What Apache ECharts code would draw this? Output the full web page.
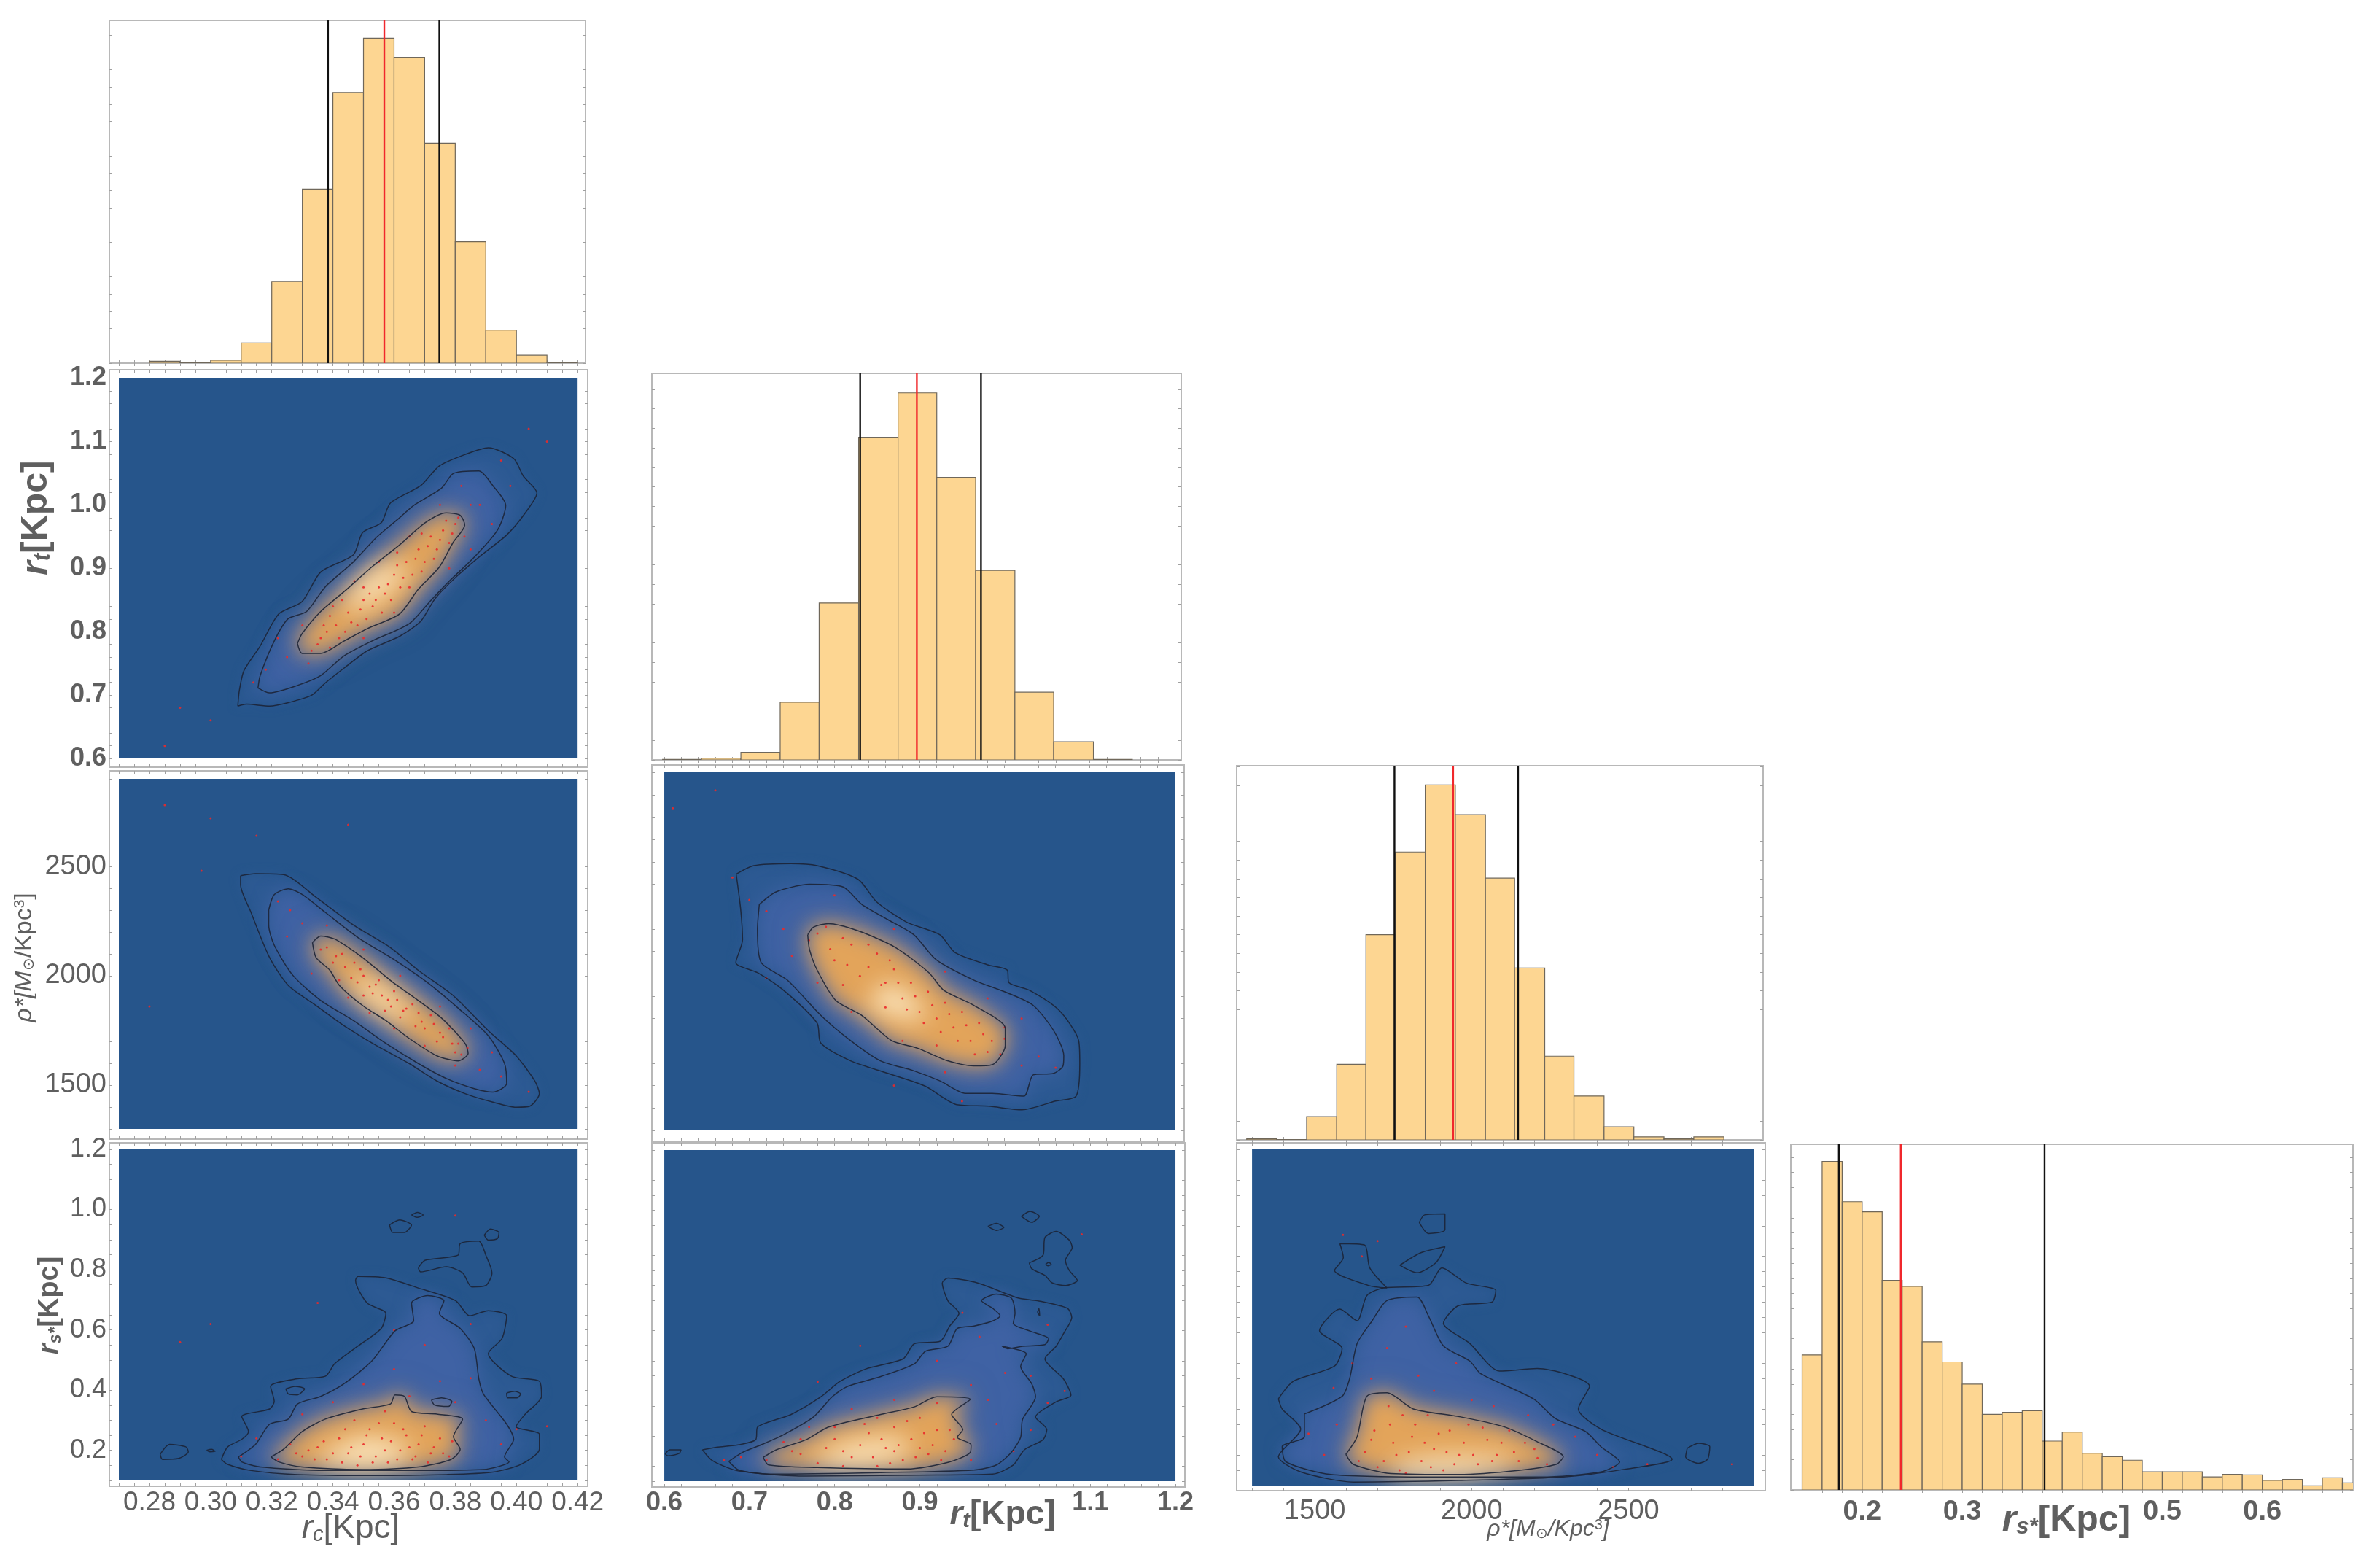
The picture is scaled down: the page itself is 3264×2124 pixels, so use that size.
<!DOCTYPE html>
<html><head><meta charset="utf-8">
<style>html,body{margin:0;padding:0;background:#fff}#c{width:3264px;height:2124px}</style>
<script src="https://cdn.jsdelivr.net/npm/echarts@6/dist/echarts.min.js"></script>
</head><body><div id="c"></div>
<script>
// ---------- histograms: bin edges in axis units, bar heights in arbitrary counts, credible lines
const rcEdges=[.28,.29,.30,.31,.32,.33,.34,.35,.36,.37,.38,.39,.40,.41,.42];
const rcCounts=[4,1,6,41,166,353,549,659,620,446,246,67,16,1];
const rcLines=[.3384,.3568,.3748];
const rtEdges=[.598,.6437,.690,.7362,.782,.8284,.8747,.9202,.9659,1.012,1.0576,1.1043,1.150];
const rtCounts=[2,6,27,207,563,1158,1317,1014,680,243,65,2];
const rtLines=[.8302,.8968,.9722];
const rhoEdges=[1283,1379,1474,1570,1663,1757,1852,1948,2044,2137,2233,2326,2422,2517,2613,2708,2804];
const rhoCounts=[2,.5,46,150,407,571,704,645,519,341,166,87,26,6,2,6];
const rhoLines=[1754,1941,2148];
const rsEdges=[.14,.16,.18,.20,.22,.24,.26,.28,.30,.32,.34,.36,.38,.40,.42,.44,.46,.48,.50,.52,.54,.56,.58,.60,.62,.64,.66,.68,.70];
const rsCounts=[268,652,572,552,416,404,294,254,210,150,154,157,97,115,73,66,59,36,36,36,26,31,30,19,21,8,24,14];
const rsLines=[.1767,.2386,.3823];
// ---------- tick labels
const rcLabels=[.28,.30,.32,.34,.36,.38,.40,.42];
const rtXLabels=[.6,.7,.8,.9,1.1,1.2];
const rtYLabels=[.6,.7,.8,.9,1.0,1.1,1.2];
const rhoXLabels=[1500,2000,2500];
const rhoYLabels=[1500,2000,2500];
const rsYLabels=[.2,.4,.6,.8,1.0,1.2];
const rsXLabels=[.2,.3,.5,.6];
// ---------- contours, rt vs rc
const c21a=[[.3089,.6825],[.3117,.6856],[.3193,.6825],[.3254,.688],[.333,.6996],[.3375,.7191],[.3436,.7424],[.3512,.7697],[.3619,.793],[.3687,.8163],[.3733,.8514],[.3794,.8825],[.3877,.9175],[.3968,.9525],[.4029,.9875],[.4067,1.0187],[.4022,1.0459],[.3991,1.0732],[.3908,1.0903],[.3831,1.0794],[.3748,1.0615],[.3687,1.0304],[.3588,1.0031],[.3558,.972],[.3497,.9564],[.3467,.9214],[.336,.8942],[.3299,.8475],[.3223,.828],[.3162,.7774],[.3109,.7385],[.3094,.7074]];
const c21b=[[.3155,.7113],[.3193,.7035],[.3284,.7152],[.336,.7307],[.3436,.7619],[.3527,.7852],[.3649,.8125],[.3717,.8475],[.3778,.8786],[.3862,.9175],[.3938,.9603],[.3965,.9992],[.3923,1.0304],[.3877,1.0537],[.3794,1.0498],[.3755,1.0265],[.3664,.9992],[.3618,.9798],[.3542,.9486],[.3466,.9097],[.3375,.8708],[.3314,.8319],[.3253,.8202],[.3208,.7852],[.3162,.7307]];
const c21c=[[.3284,.7813],[.3299,.7658],[.336,.7658],[.3436,.7852],[.3512,.8047],[.3618,.828],[.3679,.8669],[.3748,.902],[.3793,.9409],[.3831,.9681],[.3816,.9837],[.377,.9875],[.3702,.972],[.3618,.937],[.3527,.902],[.3436,.863],[.336,.8319],[.3299,.7969]];
const core21=[[.3466,.8319],[.3558,.8553],[.3649,.8942],[.3603,.9097],[.3512,.8864],[.3436,.8436]];
const dots21=[[.335,.78],[.338,.80],[.342,.79],[.345,.83],[.348,.81],[.35,.85],[.353,.84],[.355,.87],[.357,.86],[.36,.89],[.362,.87],[.364,.91],[.366,.89],[.368,.93],[.37,.91],[.372,.95],[.374,.93],[.376,.96],[.378,.94],[.38,.97],[.332,.75],[.325,.76],[.322,.79],[.318,.74],[.314,.72],[.33,.81],[.34,.84],[.347,.88],[.355,.91],[.365,.95],[.375,1.0],[.382,1.03],[.388,1.0],[.392,.97],[.385,.93],[.378,.9],[.36,.83],[.35,.79],[.398,1.03],[.395,1.07],[.404,1.12],[.41,1.1],[.29,.68],[.285,.62],[.30,.66],[.333,.77],[.336,.79],[.339,.775],[.341,.81],[.344,.80],[.346,.815],[.349,.835],[.351,.82],[.352,.86],[.354,.85],[.356,.83],[.358,.875],[.359,.85],[.361,.905],[.363,.885],[.365,.87],[.367,.915],[.369,.895],[.371,.935],[.373,.915],[.375,.945],[.377,.975],[.379,.955],[.381,.98],[.343,.85],[.339,.825],[.337,.81],[.35,.87],[.361,.925],[.369,.955],[.383,.95],[.385,1.0]];
// ---------- contours, rho vs rc
const c31a=[[.3098,2458],[.3147,2467],[.3238,2463],[.3345,2359],[.3467,2232],[.3588,2129],[.3679,2025],[.3793,1910],[.3908,1749],[.3999,1634],[.406,1519],[.4075,1461],[.4044,1404],[.3999,1399],[.3923,1422],[.3832,1461],[.374,1519],[.3649,1599],[.3543,1680],[.3436,1772],[.3345,1864],[.3254,1956],[.3193,2083],[.3132,2290],[.3098,2417]];
const c31b=[[.319,2301],[.3208,2371],[.3254,2398],[.33,2371],[.3375,2290],[.3482,2175],[.3603,2071],[.371,1968],[.3809,1853],[.3908,1726],[.3961,1599],[.3968,1507],[.3923,1468],[.3862,1484],[.3771,1530],[.3679,1599],[.3573,1691],[.3467,1795],[.336,1887],[.3269,2002],[.3208,2140],[.319,2232]];
const c31c=[[.3333,2152],[.336,2182],[.3406,2168],[.3497,2083],[.3588,1979],[.3679,1887],[.3755,1807],[.3832,1691],[.3842,1645],[.3809,1611],[.374,1634],[.3649,1714],[.3573,1795],[.3497,1864],[.3421,1956],[.339,2025],[.3345,2083]];
const core31=[[.3482,2002],[.3573,1933],[.3664,1818],[.3634,1795],[.3543,1864],[.3467,1956]];
const dots31=[[.336,2120],[.34,2060],[.343,2100],[.346,1990],[.349,2030],[.352,1950],[.355,1980],[.358,1890],[.36,1930],[.363,1840],[.366,1870],[.369,1790],[.372,1820],[.375,1740],[.378,1760],[.381,1690],[.384,1670],[.33,2240],[.326,2300],[.322,2340],[.325,2180],[.333,2010],[.345,1900],[.352,1830],[.36,1760],[.37,1680],[.38,1590],[.388,1570],[.395,1540],[.404,1470],[.338,2230],[.35,2120],[.362,2000],[.375,1860],[.385,1760],[.392,1650],[.30,2720],[.297,2480],[.28,1860],[.315,2640],[.345,2690],[.285,2780],[.338,2130],[.341,2090],[.344,2040],[.347,2060],[.348,1970],[.35,2000],[.353,1920],[.354,1960],[.356,1910],[.359,1860],[.361,1890],[.362,1810],[.364,1850],[.367,1770],[.368,1830],[.37,1760],[.373,1780],[.374,1700],[.376,1720],[.379,1690],[.38,1650],[.382,1640],[.342,1980],[.35,1910],[.357,1840]];
// ---------- contours, rs vs rc
const c41a=[[.3035,.1698],[.3056,.2117],[.3102,.2369],[.3124,.262],[.3102,.3122],[.3193,.3374],[.3208,.3625],[.3196,.4127],[.3284,.4379],[.3375,.4462],[.3406,.4881],[.3482,.5467],[.3558,.6054],[.3573,.6556],[.3512,.6891],[.3474,.7645],[.3482,.7779],[.3573,.7729],[.3679,.7394],[.3801,.6975],[.3847,.6472],[.3908,.664],[.3968,.6472],[.3953,.5719],[.3908,.5216],[.3984,.4462],[.4075,.4295],[.4082,.3792],[.4029,.3206],[.3999,.2787],[.4075,.2536],[.4075,.2033],[.4014,.1531],[.3923,.128],[.3771,.1196],[.3527,.1162],[.3284,.1196],[.3132,.133],[.3056,.1531]];
const c41b=[[.3091,.1782],[.3147,.2201],[.3193,.2871],[.3254,.3038],[.3284,.3541],[.336,.3792],[.3436,.4211],[.3527,.4965],[.3603,.597],[.3664,.6305],[.3657,.6891],[.371,.7142],[.3763,.6975],[.3748,.6556],[.3816,.6054],[.3862,.5384],[.3877,.4379],[.3892,.3876],[.3968,.2871],[.3991,.2369],[.3961,.1782],[.3976,.1615],[.3892,.1363],[.3679,.133],[.3375,.133],[.3162,.1447],[.3102,.1615]];
const c41c=[[.3197,.1782],[.3238,.2033],[.3299,.262],[.3375,.3038],[.3497,.3374],[.3588,.3541],[.3603,.3843],[.3634,.3792],[.3657,.329],[.374,.3206],[.3824,.3038],[.3794,.2452],[.3816,.2033],[.3786,.1698],[.3679,.1447],[.3497,.1363],[.3299,.1447],[.3223,.1615]];
const i41a=[[.3585,.9487],[.3618,.9655],[.3657,.9487],[.3634,.9236],[.3596,.9236]];
const i41b=[[.3657,.9822],[.3676,.9906],[.3695,.9822],[.3675,.9739]];
const i41c=[[.3895,.9152],[.3915,.9353],[.3943,.9236],[.3938,.9035],[.3908,.8985]];
const i41d=[[.3679,.8064],[.3702,.8315],[.3809,.8482],[.3816,.8868],[.3877,.8951],[.39,.8482],[.392,.7896],[.39,.7477],[.3854,.7427],[.3824,.7896],[.3771,.8097],[.3687,.793]];
const i41e=[[.2835,.1866],[.2866,.2201],[.2919,.2117],[.2927,.195],[.2896,.1732],[.2843,.1698]];
const i41f=[[.2987,.2],[.3003,.2033],[.3015,.1966],[.2998,.195]];
const i41g=[[.3246,.4043],[.3276,.4127],[.3307,.4043],[.3284,.3843],[.3254,.3876]];
const i41h=[[.3722,.3675],[.3755,.3742],[.3789,.3625],[.3778,.3457],[.3732,.3507]];
const i41i=[[.3968,.3909],[.3994,.396],[.4014,.3876],[.4002,.3742],[.3971,.3742]];
const core41=[[.3345,.1782],[.3497,.2452],[.3649,.22],[.3634,.1615],[.3497,.1447],[.3375,.1531]];
const dots41=[[.33,.18],[.335,.21],[.338,.17],[.342,.24],[.345,.19],[.348,.15],[.35,.22],[.352,.27],[.354,.18],[.356,.24],[.358,.16],[.36,.29],[.362,.2],[.364,.25],[.366,.17],[.368,.22],[.37,.28],[.372,.19],[.375,.24],[.378,.18],[.322,.17],[.326,.22],[.33,.32],[.34,.36],[.35,.42],[.36,.47],[.365,.38],[.37,.55],[.375,.43],[.38,.36],[.385,.44],[.39,.3],[.395,.22],[.4,.27],[.385,.62],[.36,.6],[.335,.69],[.30,.62],[.29,.56],[.38,.98],[.41,.28],[.315,.24],[.31,.18],[.332,.2],[.334,.17],[.337,.23],[.34,.19],[.343,.16],[.344,.27],[.346,.21],[.349,.18],[.351,.25],[.353,.16],[.355,.29],[.357,.2],[.359,.23],[.361,.17],[.363,.27],[.365,.21],[.367,.18],[.369,.25],[.371,.16],[.373,.21],[.376,.19],[.379,.23],[.328,.19],[.347,.3],[.357,.33]];
// ---------- contours, rho vs rt
const c32a=[[.6845,2445],[.7051,2483],[.7489,2492],[.7796,2483],[.8278,2422],[.8497,2321],[.8847,2231],[.9241,2174],[.9417,2095],[.9811,2039],[1.003,2017],[1.0052,1960],[1.0293,1926],[1.0643,1836],[1.0871,1701],[1.0884,1600],[1.084,1453],[1.0599,1431],[1.0205,1392],[.9811,1408],[.9438,1415],[.9066,1498],[.8628,1555],[.819,1611],[.784,1690],[.7796,1780],[.7402,1926],[.7095,2005],[.6841,2050],[.692,2152],[.6898,2287]];
const c32b=[[.7117,2310],[.7314,2366],[.7708,2400],[.8103,2388],[.8322,2310],[.8628,2242],[.8935,2174],[.9198,2062],[.9636,1972],[1.003,1915],[1.0336,1859],[1.0577,1746],[1.0696,1634],[1.0687,1588],[1.0577,1555],[1.0336,1548],[1.0227,1453],[.9855,1465],[.9548,1465],[.9241,1521],[.8935,1566],[.854,1611],[.819,1701],[.784,1814],[.7445,1972],[.7139,2050],[.7095,2197]];
const c32c=[[.7686,2174],[.7752,2208],[.7927,2224],[.8278,2192],[.8716,2118],[.911,2005],[.9285,1926],[.9636,1859],[1.0008,1757],[1.0008,1679],[.9855,1593],[.9636,1588],[.9329,1611],[.8979,1667],[.8672,1701],[.8322,1814],[.8015,1881],[.7796,2017],[.7708,2107]];
const core32=[[.8365,1859],[.8628,1960],[.8891,1904],[.911,1814],[.8935,1791],[.854,1836]];
const dots32=[[.77,2150],[.79,2210],[.80,2060],[.82,2130],[.83,1990],[.85,2090],[.86,1960],[.87,2020],[.88,1890],[.89,1960],[.9,1830],[.91,1920],[.92,1800],[.93,1870],[.94,1760],[.95,1830],[.96,1700],[.97,1780],[.98,1650],[1.0,1710],[.72,2280],[.74,2200],[.75,2080],[.78,1960],[.82,1830],[.88,1700],[.93,1560],[1.02,1590],[1.04,1630],[1.06,1580],[1.02,1800],[.98,1890],[.93,2010],[.87,2200],[.8,2350],[.7,2330],[.72,1980],[.61,2740],[.66,2820],[.68,2430],[.95,1430],[.87,1500],[.78,2180],[.795,2110],[.81,2160],[.815,2040],[.84,2130],[.84,2030],[.855,1950],[.865,2060],[.875,1960],[.885,1840],[.895,1900],[.905,1780],[.915,1860],[.925,1740],[.935,1820],[.945,1700],[.955,1770],[.965,1640],[.975,1730],[.985,1700],[.995,1640],[1.0,1760],[.81,1950],[.86,1850],[.92,1680]];
// ---------- contours, rs vs rt
const c42a=[[.6447,.2042],[.6613,.2126],[.6876,.221],[.7073,.2378],[.7095,.2798],[.7489,.3217],[.784,.3805],[.8059,.4309],[.8365,.4729],[.8803,.5065],[.8935,.5568],[.9241,.5652],[.9351,.6156],[.946,.6576],[.9329,.6996],[.9263,.7584],[.9329,.7751],[.9679,.7584],[1.0161,.708],[1.038,.6996],[1.0731,.6744],[1.0783,.6442],[1.0687,.5904],[1.06,.5484],[1.0468,.5065],[1.0687,.4393],[1.0774,.3856],[1.06,.3637],[1.0358,.3133],[1.049,.2714],[1.0446,.2378],[1.0227,.2042],[1.0096,.1538],[.9855,.1236],[.8979,.1202],[.7664,.1169],[.6876,.1337],[.6569,.1673]];
const c42b=[[.6758,.1656],[.692,.1958],[.7139,.221],[.7402,.2546],[.7752,.3133],[.7971,.3805],[.8146,.4141],[.854,.4477],[.8935,.4897],[.9066,.5317],[.9329,.5484],[.9438,.6072],[.9636,.6156],[.9855,.6324],[.9942,.6492],[.9855,.6744],[.9723,.6996],[.9898,.7214],[1.0074,.708],[1.0117,.6576],[1.0096,.624],[1.0293,.5988],[1.0512,.5736],[1.0468,.5535],[1.0205,.5484],[1.003,.54],[.9964,.5484],[1.0249,.5232],[1.0183,.4813],[1.0315,.4225],[1.0358,.3805],[1.0205,.305],[1.0183,.2462],[1.0074,.1958],[.9898,.1538],[.9636,.137],[.854,.1286],[.7226,.1236],[.6876,.137]];
const c42c=[[.7161,.179],[.7314,.2042],[.7664,.2378],[.7927,.2798],[.854,.3217],[.8935,.3469],[.9198,.3805],[.9592,.3721],[.9373,.3217],[.9504,.2714],[.9438,.2462],[.9601,.221],[.9592,.1958],[.9329,.1622],[.8847,.1404],[.7796,.1454],[.7226,.1538]];
const i42a=[[.6009,.1908],[.6066,.2042],[.6197,.2042],[.6175,.1924],[.6044,.184]];
const i42b=[[.9798,.9464],[.9898,.9565],[.9986,.9431],[.9898,.933]];
const i42c=[[1.0192,.98],[1.0292,.9968],[1.0402,.98],[1.0314,.9599]];
const i42d=[[1.0284,.8255],[1.0446,.8507],[1.0468,.9095],[1.06,.9296],[1.0753,.9011],[1.0788,.8759],[1.0709,.8339],[1.0753,.8003],[1.0849,.7668],[1.0709,.75],[1.0556,.7584],[1.0468,.7836],[1.0315,.8054]];
const i42e=[[1.0476,.8205],[1.0511,.8272],[1.0542,.8205],[1.0503,.8155]];
const i42f=[[1.038,.6609],[1.0398,.6744],[1.0406,.6492]];
const core42=[[.7706,.1706],[.819,.2294],[.8803,.2462],[.8891,.1874],[.8321,.1538],[.784,.1538]];
const dots42=[[.72,.17],[.75,.2],[.78,.16],[.8,.24],[.82,.18],[.84,.26],[.85,.15],[.86,.21],[.87,.28],[.88,.17],[.89,.24],[.9,.31],[.91,.19],[.92,.27],[.93,.2],[.94,.24],[.74,.23],[.77,.28],[.82,.34],[.87,.37],[.92,.36],[.96,.42],[.98,.37],[1.0,.46],[.99,.29],[1.03,.27],[1.01,.2],[.96,.17],[.92,.5],[.97,.58],[1.03,.45],[1.05,.36],[1.07,.4],[1.05,.62],[.95,.66],[.69,.18],[.67,.17],[.83,.55],[.78,.43],[1.09,.92],[.76,.19],[.79,.21],[.81,.15],[.83,.22],[.835,.29],[.845,.18],[.855,.24],[.865,.16],[.875,.22],[.885,.3],[.895,.18],[.905,.26],[.915,.22],[.925,.17],[.935,.27],[.76,.24],[.8,.28],[.85,.31],[.9,.21],[.87,.2],[.81,.2]];
// ---------- contours, rs vs rho
const c43a=[[1384,.3837],[1432,.4414],[1563,.4909],[1587,.5486],[1515,.6063],[1580,.6772],[1635,.6393],[1666,.7218],[1719,.7465],[1862,.7548],[1905,.8125],[1982,.763],[2077,.7383],[2065,.7003],[1958,.6888],[1910,.6311],[1994,.5651],[2089,.4744],[2209,.4827],[2376,.4249],[2340,.3507],[2412,.2848],[2639,.1858],[2484,.1528],[2292,.1281],[1958,.1166],[1623,.1116],[1455,.1446],[1384,.1941],[1455,.2848],[1396,.3507]];
const c43b=[[1467,.3342],[1587,.392],[1611,.4497],[1635,.5651],[1683,.6393],[1730,.7053],[1826,.7168],[1862,.6558],[1910,.5569],[1994,.5074],[2029,.4662],[2197,.3837],[2269,.3178],[2364,.2765],[2412,.2271],[2472,.1776],[2412,.1446],[2221,.1281],[1862,.1281],[1551,.1363],[1408,.1776],[1396,.2271],[1467,.26]];
const c43c=[[1599,.2023],[1635,.26],[1666,.392],[1730,.4035],[1814,.3507],[1958,.326],[2101,.293],[2209,.2435],[2292,.1941],[2269,.1693],[2149,.1495],[1958,.1363],[1742,.1396],[1623,.1693]];
const i43a=[[1833,.9609],[1850,.9856],[1915,.9889],[1915,.9361],[1862,.9246]];
const i43b=[[1771,.8207],[1838,.8619],[1915,.8817],[1886,.829],[1826,.796]];
const i43c=[[1580,.8916],[1659,.8867],[1675,.8125],[1730,.7465],[1671,.7548],[1563,.8042],[1591,.8454]];
const i43d=[[2687,.2221],[2723,.2386],[2759,.2271],[2752,.1858],[2723,.1726],[2682,.1941]];
const core43=[[1742,.1693],[1886,.1941],[2101,.1941],[2149,.1693],[1982,.1363],[1766,.1281]];
const dots43=[[1640,.18],[1680,.25],[1700,.16],[1740,.3],[1760,.2],[1790,.14],[1810,.26],[1840,.18],[1860,.33],[1880,.22],[1910,.15],[1930,.28],[1960,.2],[1990,.3],[2020,.17],[2050,.25],[2080,.2],[2120,.28],[2150,.18],[2200,.22],[2240,.17],[1530,.2],[1570,.3],[1560,.42],[1620,.5],[1680,.45],[1730,.55],[1790,.62],[1830,.46],[1880,.41],[1950,.5],[2000,.38],[2070,.36],[2180,.33],[2260,.3],[2330,.26],[2400,.2],[2450,.16],[2560,.17],[2830,.17],[1650,.85],[1590,.92],[1700,.9],[1480,.27],[1660,.21],[1690,.28],[1720,.18],[1750,.24],[1770,.15],[1800,.21],[1820,.3],[1850,.24],[1870,.16],[1895,.27],[1920,.21],[1945,.17],[1975,.24],[2005,.2],[2035,.29],[2065,.18],[2095,.24],[2135,.21],[2170,.24],[2210,.19],[1735,.36],[1780,.33]];

// ---------- assembly
const GREY='#5f5f5f', BLUE='#26558b', OFF=6000;
const SANS='"Liberation Sans",Arial,sans-serif', NARROW='"Liberation Sans Narrow","Liberation Sans",sans-serif';
const step=(a,b,s)=>{const o=[];for(let i=0;i*s<=b-a+1e-9;i++)o.push(+(a+i*s).toFixed(6));return o;};
const grids=[],xAxes=[],yAxes=[],series=[];

function panel(rect,xr,yr,o){
  const gi=grids.length;
  grids.push({left:rect[0],top:rect[1],width:rect[2]-rect[0],height:rect[3]-rect[1],show:true,borderColor:'#b8b8b8',borderWidth:2,backgroundColor:'transparent'});
  const base={gridIndex:gi,type:'value',splitLine:{show:false},axisLine:{show:false}};
  const tick=t=>({show:true,inside:true,length:4,customValues:t,lineStyle:{color:'#a0a0a0',width:1}});
  const lab=(v,fmt,font,size,weight)=>v?{show:true,customValues:v,formatter:fmt,color:GREY,fontFamily:font,fontSize:size,fontWeight:weight,margin:o.margin||4}:{show:false};
  const xb=xAxes.length, yb=yAxes.length;
  xAxes.push({...base,min:xr[0],max:xr[1],position:'bottom',axisTick:tick(o.xt),axisLabel:lab(o.xl,o.xf,o.xfont||SANS,o.xs||36,o.xw||'normal')});
  xAxes.push({...base,min:xr[0],max:xr[1],position:'top',axisTick:tick(o.xt),axisLabel:{show:false}});
  yAxes.push({...base,min:yr[0],max:yr[1],position:'left',axisTick:tick(o.yt),axisLabel:lab(o.yl,o.yf,o.yfont||SANS,o.ys||36,o.yw||'normal')});
  yAxes.push({...base,min:yr[0],max:yr[1],position:'right',axisTick:tick(o.yt),axisLabel:{show:false}});
  return {xAxisIndex:xb,yAxisIndex:yb};
}
function hist(ax,edges,counts,lines,yMax){
  const rows=counts.map((c,i)=>[edges[i],edges[i+1],c]);
  series.push({type:'custom',...ax,data:rows,clip:true,silent:true,encode:{x:[0,1],y:2},
    renderItem:(p,api)=>{const a=api.coord([api.value(0),0]),b=api.coord([api.value(1),api.value(2)]);
      return {type:'rect',shape:{x:a[0],y:b[1],width:b[0]-a[0],height:a[1]-b[1]},
        style:{fill:'#fdd692',stroke:'#6f675a',lineWidth:1.2}};}});
  lines.forEach((v,i)=>series.push({type:'line',...ax,data:[[v,0],[v,yMax]],showSymbol:false,silent:true,
    lineStyle:{color:i===1?'#f0282c':'#111',width:2.4}}));
}
function blob(ax,box,pts,color,blur){
  series.push({type:'custom',...ax,data:pts,clip:false,silent:true,encode:{x:0,y:1},
    renderItem:(p,api)=>{ if(p.dataIndex!==0) return null;
      const a=api.coord([box[0],box[3]]),b=api.coord([box[1],box[2]]);
      return {type:'group',clipPath:{type:'rect',shape:{x:a[0],y:a[1],width:b[0]-a[0],height:b[1]-a[1]}},
        children:[{type:'polygon',x:-OFF,shape:{points:pts.map(q=>api.coord(q))},
          style:{fill:color,shadowColor:color,shadowBlur:blur,shadowOffsetX:OFF}}]};}});
}
function density(ax,box,outer,mid,inner,core,contours,dots){
  series.push({type:'custom',...ax,data:[box],clip:true,silent:true,encode:{x:[0,1],y:[2,3]},
    renderItem:(p,api)=>{const a=api.coord([api.value(0),api.value(3)]),b=api.coord([api.value(1),api.value(2)]);
      return {type:'rect',shape:{x:a[0],y:a[1],width:b[0]-a[0],height:b[1]-a[1]},style:{fill:BLUE}};}});
  blob(ax,box,outer,'#2d5a93',14);
  blob(ax,box,mid,'#3f62a4',24);
  blob(ax,box,inner,'rgba(170,140,125,.75)',46);
  blob(ax,box,inner,'rgba(238,168,84,.95)',28);
  blob(ax,box,core,'rgba(255,240,205,.95)',34);
  contours.forEach(c=>series.push({type:'line',...ax,data:c.concat([c[0]]),showSymbol:false,smooth:.25,silent:true,clip:true,
    lineStyle:{color:'#1c2436',width:1.5,opacity:.9}}));
  series.push({type:'scatter',...ax,data:dots,symbolSize:3,silent:true,itemStyle:{color:'#ea2a2a',opacity:.9}});
}
const f2=v=>v.toFixed(2), f1=v=>v.toFixed(1), f0=v=>String(v);
const rcT=step(.27,.42,.005), rtT=step(.6,1.2,.02), rhoT=step(1300,2900,100), rsT=step(.14,.68,.02), rsYT=step(.1,1.2,.05);

// histograms
hist(panel([150,28,803,498],[.2669,.4226],[0,695],{xt:rcT,yt:step(0,695,35)}),rcEdges,rcCounts,rcLines,695);
hist(panel([894,512,1620,1042],[.5854,1.2075],[0,1387],{xt:rtT,yt:step(0,1387,70)}),rtEdges,rtCounts,rtLines,1387);
hist(panel([1696,1050,2418,1563],[1251,2929],[0,742],{xt:rhoT,yt:step(0,742,37)}),rhoEdges,rhoCounts,rhoLines,742);
hist(panel([2456,1569,3227,2043],[.1287,.6906],[0,686],{xt:rsT,yt:step(0,686,30),xl:rsXLabels,xf:f1,xs:38,xw:'bold',xfont:NARROW,margin:12}),rsEdges,rsCounts,rsLines,686);
// densities
density(panel([150,507,806,1052],[.2669,.4233],[.5862,1.2133],{xt:rcT,yt:rtT,yl:rtYLabels,yf:f1,yw:'bold'}),[.27,.42,.6,1.2],c21a,c21b,c21c,core21,[c21a,c21b,c21c],dots21);
density(panel([150,1057,806,1562],[.2669,.4233],[1253,2937],{xt:rcT,yt:rhoT,yl:rhoYLabels,yf:f0,yfont:NARROW,ys:38}),[.27,.42,1300,2900],c31a,c31b,c31c,core31,[c31a,c31b,c31c],dots31);
density(panel([150,1567,806,2038],[.2669,.4233],[.0806,1.2218],{xt:rcT,yt:rsYT,xl:rcLabels,xf:f2,yl:rsYLabels,yf:f1,xs:37}),[.27,.42,.1,1.2],c41a,c41b,c41c,core41,[c41a,c41b,c41c,i41a,i41b,i41c,i41d,i41e,i41f,i41g,i41h,i41i],dots41);
density(panel([894,1049,1624,1565],[.5854,1.2111],[1251,2933],{xt:rtT,yt:rhoT}),[.6,1.2,1300,2900],c32a,c32b,c32c,core32,[c32a,c32b,c32c],dots32);
density(panel([894,1567,1625,2039],[.5854,1.2111],[.0806,1.2243],{xt:rtT,yt:rsYT,xl:rtXLabels,xf:f1,xw:'bold'}),[.6,1.2,.1,1.2],c42a,c42b,c42c,core42,[c42a,c42b,c42c,i42a,i42b,i42c,i42d,i42e,i42f],dots42);
density(panel([1696,1567,2421,2044],[1251,2936],[.0833,1.2215],{xt:rhoT,yt:rsYT,xl:rhoXLabels,xf:f0,xfont:NARROW,xs:38,margin:10}),[1300,2900,.1,1.2],c43a,c43b,c43c,core43,[c43a,c43b,c43c,i43a,i43b,i43c,i43d],dots43);

// axis titles
function title(x,y,rot,size,weight,text,font){
  const fam=font||SANS;
  const t={fill:GREY,fontSize:size,fontWeight:weight,fontFamily:fam};
  const s={fill:GREY,fontSize:Math.round(size*.62),fontWeight:weight,fontFamily:fam,fontStyle:'italic',verticalAlign:'bottom'};
  return {type:'text',x,y,rotation:rot,silent:true,style:{text,align:'center',verticalAlign:'middle',fill:GREY,fontSize:size,fontFamily:fam,
    rich:{i:{...t,fontStyle:'italic'},n:t,s,o:{...s,fontStyle:'normal'},u:{...s,fontStyle:'normal',verticalAlign:'top'}}}};
}
const rotUp=Math.PI/2;
const graphics=[
  title(481,2096,0,46,'normal','{i|r}{s|c}{n|[Kpc]}'),
  title(1375,2077,0,46,'bold','{i|r}{s|t}{n|[Kpc]}'),
  title(2123,2097,0,32,'normal','{i|ρ*[M}{o|⊙}{i|/Kpc}{u|3}{i|]}'),
  title(2834,2085,0,50,'bold','{i|r}{s|s*}{n|[Kpc]}',NARROW),
  title(50,710,rotUp,50,'bold','{i|r}{s|t}{n|[Kpc]}'),
  title(34,1313,rotUp,34,'normal','{i|ρ*[M}{o|⊙}{n|/Kpc}{u|3}{n|]}'),
  title(69,1790,rotUp,38,'bold','{i|r}{s|s*}{n|[Kpc]}')
];

const chart=echarts.init(document.getElementById('c'),null,{width:3264,height:2124,renderer:'canvas'});
chart.setOption({animation:false,backgroundColor:'#fff',tooltip:{show:false},legend:{show:false},grid:grids,xAxis:xAxes,yAxis:yAxes,series,graphic:graphics});
</script></body></html>
